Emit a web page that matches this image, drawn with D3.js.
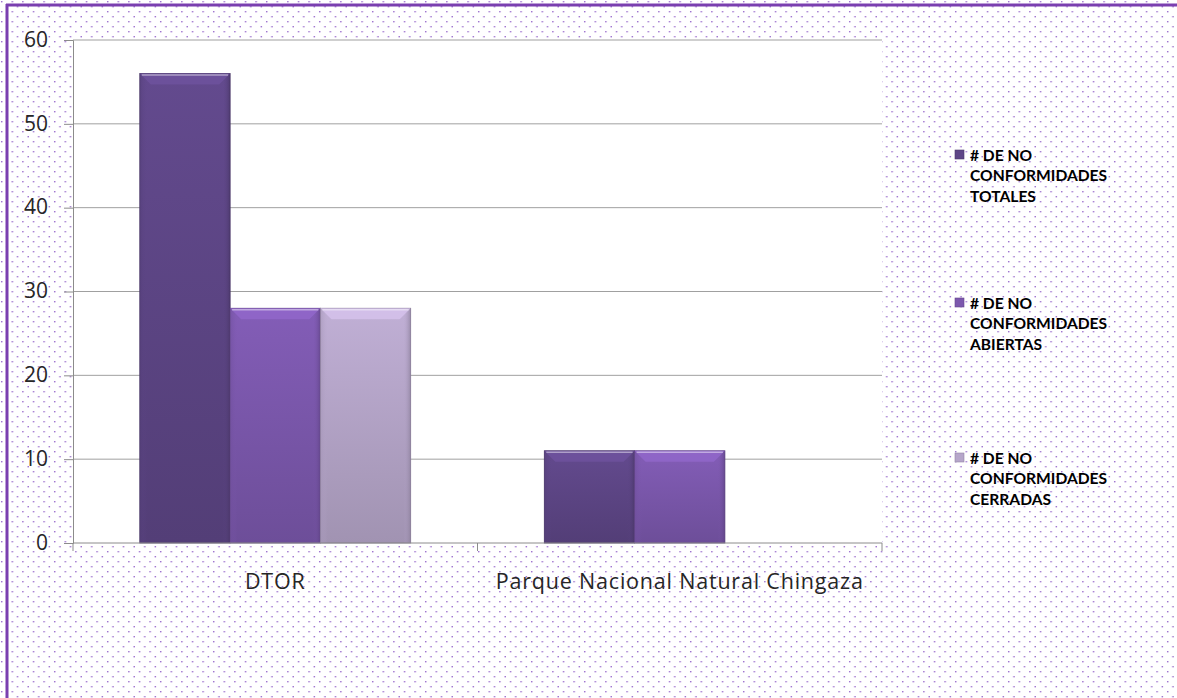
<!DOCTYPE html>
<html>
<head>
<meta charset="utf-8">
<script src="https://cdn.jsdelivr.net/npm/d3@7"></script>
<style>
  body { margin: 0; padding: 0; background: #fff; }
  svg { display: block; }
</style>
</head>
<body>
<div id="chart"></div>
<script>
// data
const categories = ["DTOR", "Parque Nacional Natural Chingaza"]
const series_names = [
    ["# DE NO", "CONFORMIDADES", "TOTALES"],
    ["# DE NO", "CONFORMIDADES", "ABIERTAS"],
    ["# DE NO", "CONFORMIDADES", "CERRADAS"]
]
const totales = [56, 11]
const abiertas = [28, 11]
const cerradas = [28, 0]
const y_ticks = [0, 10, 20, 30, 40, 50, 60]

const series_values = [totales, abiertas, cerradas]
const bar_colors = ["#5e4687", "#7c58ad", "#b6a6ca"]

const W = 1177, H = 698
const plot = { left: 73, right: 882, top: 40, bottom: 543 }

let svg = d3.select("#chart").append("svg")
    .attr("width", W)
    .attr("height", H)

let defs = svg.append("defs")

// dotted background
let pat = defs.append("pattern")
    .attr("id", "dots")
    .attr("patternUnits", "userSpaceOnUse")
    .attr("width", 10.6).attr("height", 10)
pat.append("rect").attr("x", 1).attr("y", 1).attr("width", 1.4).attr("height", 1.4).attr("fill", "#9a6ccc")
pat.append("rect").attr("x", 6.3).attr("y", 6).attr("width", 1.4).attr("height", 1.4).attr("fill", "#9a6ccc")

svg.append("rect").attr("width", W).attr("height", H).attr("fill", "url(#dots)")

// frame lines (left and top)
svg.append("line").attr("x1", 7).attr("x2", 7).attr("y1", 4).attr("y2", H)
    .attr("stroke", "#7a3fb0").attr("stroke-width", 3)
svg.append("line").attr("x1", 6).attr("x2", W).attr("y1", 5).attr("y2", 5)
    .attr("stroke", "#7a3fb0").attr("stroke-width", 3)

// gradients for the bevelled bars
bar_colors.forEach(function(c, i) {
    let g = defs.append("linearGradient").attr("id", "grad" + i)
        .attr("x1", "0").attr("x2", "0").attr("y1", "0").attr("y2", "1")
    g.append("stop").attr("offset", "0%").attr("stop-color", d3.color(c).brighter(0.15))
    g.append("stop").attr("offset", "100%").attr("stop-color", d3.color(c).darker(0.35))
    let s = defs.append("linearGradient").attr("id", "side" + i)
        .attr("x1", "0").attr("x2", "1").attr("y1", "0").attr("y2", "0")
    s.append("stop").attr("offset", "0%").attr("stop-color", d3.color(c).darker(0.3)).attr("stop-opacity", 0.6)
    s.append("stop").attr("offset", "8%").attr("stop-color", c).attr("stop-opacity", 0)
    s.append("stop").attr("offset", "92%").attr("stop-color", c).attr("stop-opacity", 0)
    s.append("stop").attr("offset", "100%").attr("stop-color", d3.color(c).darker(0.8)).attr("stop-opacity", 0.7)
})

// plot area
svg.append("rect")
    .attr("x", plot.left).attr("y", plot.top)
    .attr("width", plot.right - plot.left).attr("height", plot.bottom - plot.top)
    .attr("fill", "#fff")

let xScale = d3.scaleBand().domain(categories).range([plot.left, plot.right]).paddingInner(0).paddingOuter(0)
let inner = d3.scaleBand().domain([0, 1, 2]).range([0, xScale.bandwidth()]).paddingInner(0).paddingOuter(0.74)
let yScale = d3.scaleLinear().domain([0, 60]).range([plot.bottom, plot.top])

// grid lines
svg.append("g").selectAll("line").data(y_ticks.slice(1)).join("line")
    .attr("x1", plot.left).attr("x2", plot.right)
    .attr("y1", d => yScale(d)).attr("y2", d => yScale(d))
    .attr("stroke", "#a0a0a0").attr("stroke-width", 1)

// bars
series_values.forEach(function(vals, si) {
    let g = svg.append("g")
    let data = categories.map((c, ci) => ({ c: c, v: vals[ci] })).filter(d => d.v > 0)
    let x0 = d => xScale(d.c) + inner(si)
    let bw = inner.bandwidth()
    g.selectAll("rect.body").data(data).join("rect")
        .attr("class", "body")
        .attr("x", x0).attr("y", d => yScale(d.v))
        .attr("width", bw).attr("height", d => yScale(0) - yScale(d.v))
        .attr("fill", "url(#grad" + si + ")")
        .attr("stroke", d3.color(bar_colors[si]).darker(0.9)).attr("stroke-width", 0.8)
    g.selectAll("rect.side").data(data).join("rect")
        .attr("class", "side")
        .attr("x", x0).attr("y", d => yScale(d.v))
        .attr("width", bw).attr("height", d => yScale(0) - yScale(d.v))
        .attr("fill", "url(#side" + si + ")")
    // top bevel
    g.selectAll("path.bevel").data(data).join("path")
        .attr("class", "bevel")
        .attr("d", function(d) {
            let x = x0(d), y = yScale(d.v), b = 11
            return "M" + x + "," + y + "L" + (x + bw) + "," + y + "L" + (x + bw - b) + "," + (y + b) +
                "L" + (x + b) + "," + (y + b) + "Z"
        })
        .attr("fill", d3.color(bar_colors[si]).brighter(0.5))
        .attr("opacity", 0.7)
    g.selectAll("line.hl").data(data).join("line")
        .attr("class", "hl")
        .attr("x1", d => x0(d) + 2).attr("x2", d => x0(d) + bw - 2)
        .attr("y1", d => yScale(d.v) + 1.5).attr("y2", d => yScale(d.v) + 1.5)
        .attr("stroke", "#fff").attr("stroke-opacity", 0.45).attr("stroke-width", 1.5)
})

// axes
let yAxis = d3.axisLeft(yScale).tickValues(y_ticks).tickSize(9).tickPadding(8)
let yg = svg.append("g").attr("transform", "translate(" + plot.left + ",0)").call(yAxis)
yg.select(".domain").attr("stroke", "#8c8c8c")
yg.selectAll(".tick line").attr("stroke", "#8c8c8c")
yg.selectAll(".tick text").attr("font-family", "'Open Sans', sans-serif").attr("font-size", 21)
    .attr("fill", "#262626").attr("dy", "0.3em").attr("x", -25)

let xg = svg.append("g")
xg.append("line").attr("x1", plot.left).attr("x2", plot.right)
    .attr("y1", plot.bottom).attr("y2", plot.bottom).attr("stroke", "#8c8c8c")
let bounds = categories.map(c => xScale(c)).concat([plot.right])
xg.selectAll("line.tk").data(bounds).join("line")
    .attr("class", "tk")
    .attr("x1", d => d).attr("x2", d => d)
    .attr("y1", plot.bottom).attr("y2", plot.bottom + 8)
    .attr("stroke", "#8c8c8c")
xg.selectAll("text").data(categories).join("text")
    .attr("x", d => xScale(d) + xScale.bandwidth() / 2)
    .attr("y", 589)
    .attr("text-anchor", "middle")
    .attr("font-family", "'Open Sans', sans-serif").attr("font-size", 21.5)
    .attr("letter-spacing", 0.8)
    .attr("fill", "#262626")
    .text(d => d)

// legend
let legend_y = [155, 303, 458]
series_names.forEach(function(lines, i) {
    let g = svg.append("g").attr("transform", "translate(955," + legend_y[i] + ")")
    g.append("rect").attr("x", 0).attr("y", -5).attr("width", 9).attr("height", 9)
        .attr("fill", bar_colors[i]).attr("stroke", d3.color(bar_colors[i]).darker(0.6)).attr("stroke-width", 0.6)
    g.selectAll("text").data(lines).join("text")
        .attr("x", 15)
        .attr("y", (d, k) => k * 20.5)
        .attr("dy", "0.36em")
        .attr("font-family", "Lato, sans-serif")
        .attr("font-weight", "bold").attr("font-size", 15.6)
        .attr("fill", "#000")
        .text(d => d)
})
</script>
</body>
</html>
